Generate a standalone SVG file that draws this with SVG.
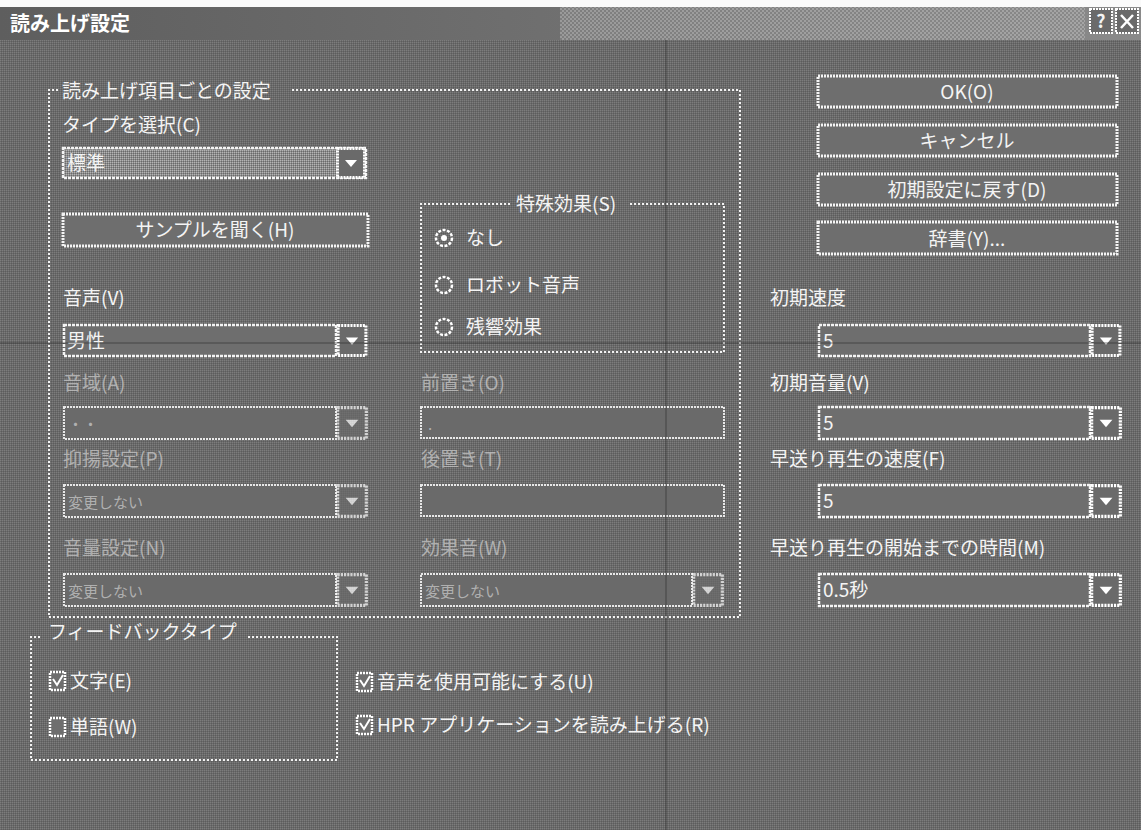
<svg xmlns="http://www.w3.org/2000/svg" width="1141" height="830" viewBox="0 0 1141 830">
<defs>
<pattern id="dith" width="2" height="2" patternUnits="userSpaceOnUse"><rect width="2" height="2" fill="#6a6a6a"/><rect width="1" height="1" fill="#7c7c7c"/><rect x="1" y="1" width="1" height="1" fill="#5c5c5c"/></pattern>
<pattern id="dithL" width="2" height="2" patternUnits="userSpaceOnUse"><rect width="2" height="2" fill="#8c8c8c"/><rect width="1" height="1" fill="#b4b4b4"/><rect x="1" y="1" width="1" height="1" fill="#6a6a6a"/></pattern>
<pattern id="dithT" width="4" height="4" patternUnits="userSpaceOnUse"><rect width="4" height="4" fill="#8a8a8a"/><rect width="2" height="2" fill="#bdbdbd"/><rect x="2" y="2" width="2" height="2" fill="#bdbdbd"/></pattern>
<linearGradient id="tg" x1="0" y1="0" x2="1" y2="0"><stop offset="0" stop-color="#5e5e5e"/><stop offset="0.5" stop-color="#707070"/><stop offset="1" stop-color="#8a8a8a"/></linearGradient>
<symbol id="arrow" viewBox="0 0 30 32"><rect x="1.5" y="1.5" width="27" height="29" fill="#6a6a6a" stroke="#fff" stroke-width="3" stroke-dasharray="2 1"/><path d="M9 13h12l-6 7z" fill="#fff"/></symbol>
</defs>
<style>
text{font-family:"Noto Sans CJK JP","Noto Sans",sans-serif;fill:#f4f4f4;font-size:19px}
.ttl{font-weight:bold;font-size:20px;fill:#fff}
.dis{fill:#c8c8c8;opacity:.75}
.grp{fill:none;stroke:#f2f2f2;stroke-width:2;stroke-dasharray:2 2}
.fld{fill:#6e6e6e;stroke:#f4f4f4;stroke-width:2.5;stroke-dasharray:3 1}
.btn{fill:#6e6e6e;stroke:#f4f4f4;stroke-width:3;stroke-dasharray:2 1}
.fldd{fill:#6a6a6a;stroke:#e8e8e8;stroke-width:2;stroke-dasharray:2 1}
.cb{fill:#6e6e6e;stroke:#fff;stroke-width:2.5;stroke-dasharray:2 1}
.rd{fill:none;stroke:#fff;stroke-width:2.5;stroke-dasharray:3 1.5}
.mid{text-anchor:middle}
.scan{stroke:#2a2a2a;stroke-width:1;opacity:.6}
</style>
<rect width="1141" height="830" fill="url(#dith)"/>
<rect width="1141" height="7" fill="#fafafa"/>
<g id="titlebar">
<rect x="0" y="7" width="1141" height="33" fill="url(#tg)"/>
<rect x="560" y="7" width="525" height="33" fill="url(#dithT)" opacity="0.55"/>
<text class="ttl" x="10" y="31">読み上げ設定</text>
<rect x="1090" y="9" width="22" height="24" fill="#6a6a6a" stroke="#fff" stroke-width="2" stroke-dasharray="2 1"/>
<text x="1101" y="28" class="mid" style="font-weight:bold;font-size:18px">?</text>
<rect x="1116" y="9" width="22" height="24" fill="#6a6a6a" stroke="#fff" stroke-width="2" stroke-dasharray="2 1"/>
<path d="M1121 15l12 13M1133 15l-12 13" stroke="#fff" stroke-width="2.5"/>
</g>
<g id="group-items">
<path class="grp" d="M58 90H49V617H740V90H292"/>
<text x="62" y="98">読み上げ項目ごとの設定</text>
</g>
<g id="type-select">
<text x="62" y="132">タイプを選択(C)</text>
<rect x="63" y="148" width="303" height="30" fill="url(#dithL)" stroke="#f4f4f4" stroke-width="2.5" stroke-dasharray="3 1"/>
<text x="67" y="170">標準</text>
<use href="#arrow" x="336" y="147" width="30" height="32"/>
</g>
<g id="btn-sample">
<rect class="btn" x="63" y="214" width="305" height="32"/>
<text class="mid" x="215" y="237">サンプルを聞く(H)</text>
</g>
<g id="effect-group">
<path class="grp" d="M510 204H421V352H724V204H630"/>
<text x="516" y="211">特殊効果(S)</text>
<circle class="rd" cx="444" cy="238" r="8"/><circle cx="444" cy="238" r="3" fill="#fff"/>
<text x="466" y="245">なし</text>
<circle class="rd" cx="444" cy="285" r="8"/>
<text x="466" y="292">ロボット音声</text>
<circle class="rd" cx="444" cy="327" r="8"/>
<text x="466" y="334">残響効果</text>
</g>
<g id="voice">
<text x="63" y="305">音声(V)</text>
<rect class="fld" x="64" y="325" width="272" height="31"/>
<text x="67" y="348">男性</text>
<use href="#arrow" x="336" y="324" width="32" height="33"/>
</g>
<g id="field-a">
<text class="dis" x="63" y="390">音域(A)</text>
<rect class="fldd" x="64" y="407" width="272" height="32"/>
<text class="dis" x="68" y="430" style="font-size:15px">・・</text>
<use href="#arrow" x="336" y="406" width="32" height="34" opacity="0.7"/>
</g>
<g id="field-p">
<text class="dis" x="63" y="466">抑揚設定(P)</text>
<rect class="fldd" x="64" y="485" width="272" height="32"/>
<text class="dis" x="68" y="508" style="font-size:15px">変更しない</text>
<use href="#arrow" x="336" y="484" width="32" height="34" opacity="0.7"/>
</g>
<g id="field-n">
<text class="dis" x="63" y="555">音量設定(N)</text>
<rect class="fldd" x="64" y="574" width="272" height="32"/>
<text class="dis" x="68" y="597" style="font-size:15px">変更しない</text>
<use href="#arrow" x="336" y="573" width="32" height="34" opacity="0.7"/>
</g>
<g id="field-o">
<text class="dis" x="421" y="390">前置き(O)</text>
<rect class="fldd" x="421" y="407" width="303" height="31"/>
<text class="dis" x="428" y="430" style="font-size:15px">.</text>
</g>
<g id="field-t">
<text class="dis" x="421" y="466">後置き(T)</text>
<rect class="fldd" x="421" y="485" width="303" height="31"/>
</g>
<g id="field-w">
<text class="dis" x="421" y="555">効果音(W)</text>
<rect class="fldd" x="421" y="574" width="271" height="32"/>
<text class="dis" x="425" y="597" style="font-size:15px">変更しない</text>
<use href="#arrow" x="692" y="573" width="32" height="34" opacity="0.7"/>
</g>
<g id="btn-ok">
<rect class="btn" x="818" y="76" width="299" height="31"/>
<text class="mid" x="967" y="99">OK(O)</text>
</g>
<g id="btn-cancel">
<rect class="btn" x="818" y="125" width="299" height="31"/>
<text class="mid" x="967" y="148">キャンセル</text>
</g>
<g id="btn-reset">
<rect class="btn" x="818" y="174" width="299" height="31"/>
<text class="mid" x="967" y="197">初期設定に戻す(D)</text>
</g>
<g id="btn-dict">
<rect class="btn" x="818" y="222" width="299" height="32"/>
<text class="mid" x="967" y="246">辞書(Y)...</text>
</g>
<g id="init-speed">
<text x="770" y="305">初期速度</text>
<rect class="fld" x="819" y="325" width="271" height="31"/>
<text x="823" y="348">5</text>
<use href="#arrow" x="1090" y="324" width="32" height="33"/>
</g>
<g id="init-volume">
<text x="770" y="390">初期音量(V)</text>
<rect class="fld" x="819" y="407" width="271" height="32"/>
<text x="823" y="430">5</text>
<use href="#arrow" x="1090" y="406" width="32" height="34"/>
</g>
<g id="ff-speed">
<text x="770" y="466">早送り再生の速度(F)</text>
<rect class="fld" x="819" y="485" width="271" height="32"/>
<text x="823" y="508">5</text>
<use href="#arrow" x="1090" y="484" width="32" height="34"/>
</g>
<g id="ff-wait">
<text x="770" y="555">早送り再生の開始までの時間(M)</text>
<rect class="fld" x="819" y="574" width="271" height="32"/>
<text x="823" y="597">0.5秒</text>
<use href="#arrow" x="1090" y="573" width="32" height="34"/>
</g>
<g id="feedback-group">
<path class="grp" d="M40 637H31V760H337V637H246"/>
<text x="48" y="639">フィードバックタイプ</text>
<rect class="cb" x="50" y="672" width="15" height="18"/>
<path d="M53 679l4 6 6-10" fill="none" stroke="#fff" stroke-width="2"/>
<text x="70" y="688">文字(E)</text>
<rect class="cb" x="50" y="718" width="15" height="18"/>
<text x="70" y="734">単語(W)</text>
</g>
<g id="chk-voice">
<rect class="cb" x="357" y="673" width="15" height="18"/>
<path d="M360 680l4 6 6-10" fill="none" stroke="#fff" stroke-width="2"/>
<text x="377" y="689">音声を使用可能にする(U)</text>
</g>
<g id="chk-hpr">
<rect class="cb" x="357" y="716" width="15" height="18"/>
<path d="M360 723l4 6 6-10" fill="none" stroke="#fff" stroke-width="2"/>
<text x="377" y="732">HPR アプリケーションを読み上げる(R)</text>
</g>
<g id="connectors">
<line class="scan" x1="666" y1="40" x2="666" y2="830"/>
<line class="scan" x1="0" y1="343" x2="1141" y2="343"/>
</g>
</svg>
